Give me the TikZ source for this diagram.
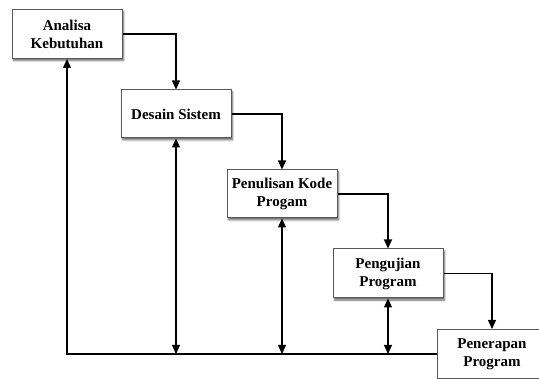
\documentclass[tikz,border=0pt]{standalone}
\usepackage{fontspec}
\setmainfont{Liberation Serif}
\usetikzlibrary{arrows.meta,shadows.blur}
\begin{document}
\begin{tikzpicture}[x=1pt,y=-1pt,
  stage/.style={draw=black!65, line width=1pt, fill=white, minimum width=110pt, minimum height=49pt,
    inner sep=0pt, align=center, font=\fontsize{15}{18}\selectfont\bfseries,
    blur shadow={shadow xshift=1.5pt, shadow yshift=-2pt, shadow blur steps=6, shadow opacity=60}},
  flow/.style={line width=1.2pt, -{Triangle[length=9pt,width=8pt]}},
  both/.style={line width=1.2pt, {Triangle[length=9pt,width=8pt]}-{Triangle[length=9pt,width=8pt]}}]
\useasboundingbox (0,0) rectangle (539,379);
\begin{scope}
\clip (0,0) rectangle (539,379);
\node[stage] (a) at (67,34) {Analisa\\Kebutuhan};
\node[stage, minimum height=48pt] (b) at (176,114) {Desain Sistem};
\node[stage, minimum height=48pt] (c) at (282,194) {Penulisan Kode\\Progam};
\node[stage] (d) at (388,273.5) {Pengujian\\Program};
\node[stage] (e) at (492,354) {Penerapan\\Program};
\end{scope}
\coordinate (corner) at (67,354);
\draw[flow] (a.east) -| (b.north);
\draw[flow] (b.east) -| (c.north);
\draw[flow] (c.east) -| (d.north);
\draw[flow] (d.east) -| (e.north);
\draw[flow] (e.west) -- (corner) -- (a.south);
\draw[both] (b.south) -- (b.south |- corner);
\draw[both] (c.south) -- (c.south |- corner);
\draw[both] (d.south) -- (d.south |- corner);
\end{tikzpicture}
\end{document}
